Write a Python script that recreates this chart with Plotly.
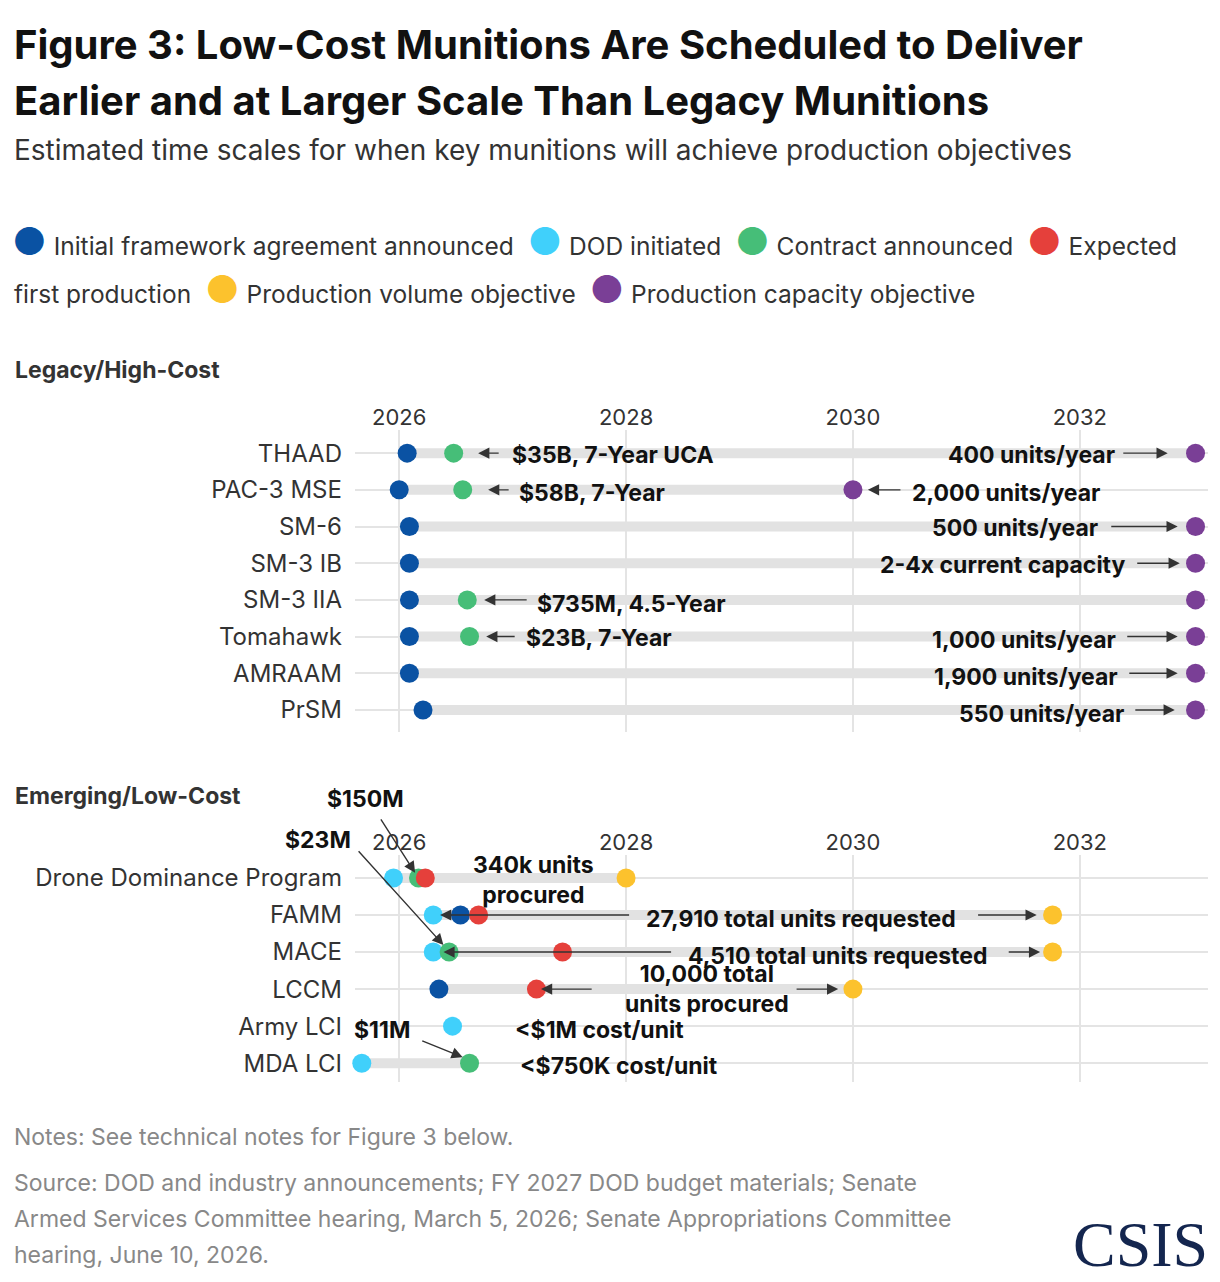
import plotly.graph_objects as go

# ---- data ---------------------------------------------------------------
legacy = ["THAAD", "PAC-3 MSE", "SM-6", "SM-3 IB", "SM-3 IIA", "Tomahawk", "AMRAAM", "PrSM"]
leg_framework = [2026.07, 2026.0, 2026.09, 2026.09, 2026.09, 2026.09, 2026.09, 2026.21]
leg_contract = [2026.48, 2026.56, None, None, 2026.60, 2026.62, None, None]
leg_capacity = [2033.02, 2030.0, 2033.02, 2033.02, 2033.02, 2033.02, 2033.02, 2033.02]

emerging = ["Drone Dominance Program", "FAMM", "MACE", "LCCM", "Army LCI", "MDA LCI"]
em_dod = [2025.95, 2026.30, 2026.30, None, 2026.47, 2025.67]
em_framework = [None, 2026.54, None, 2026.35, None, None]
em_contract = [2026.17, None, 2026.44, None, None, 2026.62]
em_expected = [2026.23, 2026.70, 2027.44, 2027.21, None, None]
em_volume = [2028.0, 2031.76, 2031.76, 2030.0, None, None]

year_ticks = [2026, 2028, 2030, 2032]

C_BLUE, C_CYAN, C_GREEN = "#0a52a3", "#40d0fb", "#46be78"
C_RED, C_YELLOW, C_PURPLE = "#e5403b", "#fcc22d", "#7a3f96"
FONT = "Inter"
OFF = 8  # page body margin in px

fig = go.Figure()


def add_rows(series, xa, ya):
    n = len(series[0][0])
    bx, by = [], []
    for i in range(n):
        vals = [s[0][i] for s in series if s[0][i] is not None]
        if len(vals) > 1:
            bx += [min(vals), max(vals), None]
            by += [i, i, None]
    fig.add_trace(go.Scatter(x=bx, y=by, mode="lines", xaxis=xa, yaxis=ya,
                             line=dict(color="#e2e2e2", width=10), hoverinfo="skip",
                             showlegend=False))
    for vals, color in series:
        xs = [v for v in vals if v is not None]
        ys = [i for i, v in enumerate(vals) if v is not None]
        fig.add_trace(go.Scatter(x=xs, y=ys, mode="markers", xaxis=xa, yaxis=ya,
                                 marker=dict(size=19, color=color), showlegend=False,
                                 cliponaxis=False))


add_rows([(leg_framework, C_BLUE), (leg_contract, C_GREEN), (leg_capacity, C_PURPLE)], "x", "y")
add_rows([(em_dod, C_CYAN), (em_framework, C_BLUE), (em_contract, C_GREEN),
          (em_expected, C_RED), (em_volume, C_YELLOW)], "x2", "y2")

axis_x = dict(range=[2025.61, 2033.13], tickvals=year_ticks, side="top",
              showgrid=True, gridcolor="#e4e4e4", gridwidth=1.5, zeroline=False,
              tickfont=dict(family=FONT, size=22, color="#333"), ticks="", showline=False)
axis_y = dict(showgrid=True, gridcolor="#e4e4e4", gridwidth=1.5, zeroline=False,
              tickfont=dict(family=FONT, size=24, color="#333"), ticks="",
              ticklabelstandoff=12)

fig.update_layout(
    width=1220, height=1282, margin=dict(l=0, r=0, t=0, b=0),
    paper_bgcolor="white", plot_bgcolor="white",
    xaxis=dict(axis_x, domain=[0.2844, 0.9836], anchor="y"),
    yaxis=dict(axis_y, domain=[0.4353, 0.6708], anchor="x", range=[7.6, -0.63],
               tickvals=list(range(len(legacy))), ticktext=legacy),
    xaxis2=dict(axis_x, domain=[0.2844, 0.9836], anchor="y2"),
    yaxis2=dict(axis_y, domain=[0.1622, 0.3393], anchor="x2", range=[5.51, -0.62],
                tickvals=list(range(len(emerging))), ticktext=emerging),
)

ann = []


def txt(x, y, s, xa="x", ya="y", anchor="center"):
    ann.append(dict(x=x, y=y, xref=xa, yref=ya, text=s, showarrow=False, xanchor=anchor,
                    font=dict(family=FONT, size=23, color="#111", weight="bold")))


def arrow(x0, y0, x1, y1, xa="x", ya="y"):
    ann.append(dict(x=x1, y=y1, ax=x0, ay=y0, xref=xa, yref=ya, axref=xa, ayref=ya,
                    text="", showarrow=True, arrowhead=2, arrowsize=1.6,
                    arrowwidth=1.4, arrowcolor="#333", standoff=0, startstandoff=0))


def ptxt(x, y, s, size, color="#111", bold=False, anchor="left", family=FONT):
    ann.append(dict(x=(x - OFF) / 1220, y=1 - (y - OFF) / 1282, xref="paper", yref="paper",
                    text=s, showarrow=False, xanchor=anchor, yanchor="middle", align="left",
                    font=dict(family=family, size=size, color=color,
                              weight="bold" if bold else "normal")))


# legacy labels
txt(2026.978, 0.05, "$35B, 7-Year UCA", anchor="left"); arrow(2026.890, 0, 2026.696, 0)
txt(2032.326, 0.05, "400 units/year", anchor="right"); arrow(2032.370, 0, 2032.775, 0)
txt(2027.040, 1.1, "$58B, 7-Year", anchor="left"); arrow(2026.978, 1, 2026.784, 1)
txt(2030.502, 1.1, "2,000 units/year", anchor="left"); arrow(2030.432, 1, 2030.132, 1)
txt(2032.176, 2.05, "500 units/year", anchor="right"); arrow(2032.264, 2, 2032.863, 2)
txt(2032.423, 3.05, "2-4x current capacity", anchor="right"); arrow(2032.493, 3, 2032.881, 3)
txt(2027.198, 4.1, "$735M, 4.5-Year", anchor="left"); arrow(2027.137, 4, 2026.749, 4)
txt(2027.101, 5.05, "$23B, 7-Year", anchor="left"); arrow(2027.031, 5, 2026.767, 5)
txt(2032.335, 5.1, "1,000 units/year", anchor="right"); arrow(2032.405, 5, 2032.863, 5)
txt(2032.352, 6.1, "1,900 units/year", anchor="right"); arrow(2032.423, 6, 2032.863, 6)
txt(2032.405, 7.1, "550 units/year", anchor="right"); arrow(2032.476, 7, 2032.837, 7)

# emerging labels
e = dict(xa="x2", ya="y2")
ptxt(365, 799, "$150M", 23, bold=True, anchor="center"); arrow(2025.83, -1.62, 2026.14, -0.14, **e)
ptxt(318, 840, "$23M", 23, bold=True, anchor="center"); arrow(2025.63, -0.76, 2026.39, 1.81, **e)
txt(2027.18, 0.05, "340k units<br>procured", **e)
arrow(2028.04, 1, 2026.36, 1, **e); txt(2029.54, 1.1, "27,910 total units requested", **e)
arrow(2031.09, 1, 2031.62, 1, **e)
arrow(2028.41, 2, 2026.39, 2, **e); txt(2029.87, 2.1, "4,510 total units requested", **e)
arrow(2031.36, 2, 2031.65, 2, **e)
txt(2028.71, 3.0, "10,000 total<br>units procured", **e)
arrow(2027.71, 3, 2027.25, 3, **e); arrow(2029.49, 3, 2029.87, 3, **e)
txt(2027.00, 4.1, "<$1M cost/unit", anchor="left", **e)
txt(2025.85, 4.11, "$11M", **e); arrow(2026.19, 4.38, 2026.56, 4.84, **e)
txt(2027.05, 5.08, "<$750K cost/unit", anchor="left", **e)

ptxt(12, 44, "Figure 3: Low-Cost Munitions Are Scheduled to Deliver", 40, bold=True)
ptxt(12, 101, "Earlier and at Larger Scale Than Legacy Munitions", 40, bold=True)
ptxt(12, 150, "Estimated time scales for when key munitions will achieve production objectives", 28, color="#333")


def dot(c):
    return f"<span style='color:{c};font-size:38px'>●</span>"


ptxt(10, 241, f"{dot(C_BLUE)} Initial framework agreement announced  {dot(C_CYAN)} DOD initiated  "
     f"{dot(C_GREEN)} Contract announced  {dot(C_RED)} Expected", 24.5, color="#333")
ptxt(12, 289, f"first production  {dot(C_YELLOW)} Production volume objective  "
     f"{dot(C_PURPLE)} Production capacity objective", 24.5, color="#333")

ptxt(13, 370, "Legacy/High-Cost", 23, color="#333", bold=True)
ptxt(13, 796, "Emerging/Low-Cost", 23, color="#333", bold=True)

ptxt(12, 1137, "Notes: See technical notes for Figure 3 below.", 23, color="#888")
ptxt(12, 1183, "Source: DOD and industry announcements; FY 2027 DOD budget materials; Senate", 23, color="#888")
ptxt(12, 1219, "Armed Services Committee hearing, March 5, 2026; Senate Appropriations Committee", 23, color="#888")
ptxt(12, 1255, "hearing, June 10, 2026.", 23, color="#888")
ptxt(1210, 1244, "CSIS", 64, color="#14264f", anchor="right", family="Liberation Serif")

fig.update_layout(annotations=ann)
fig.write_html("out.html")
